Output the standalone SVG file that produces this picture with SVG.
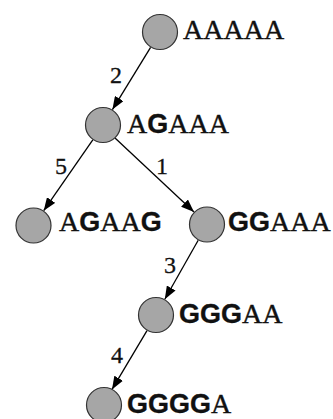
<svg xmlns="http://www.w3.org/2000/svg" width="333" height="419" viewBox="0 0 333 419">
  <style>
    .node { fill: #a6a6a6; stroke: #333333; stroke-width: 1.2; }
    .seq { font-family: "Liberation Serif", serif; font-size: 28px; fill: #111111; stroke: #111111; stroke-width: 0.4; }
    .seq .g { font-family: "Liberation Sans", Arial, sans-serif; font-weight: bold; font-size: 27px; stroke-width: 0.3; }
    .edge { stroke: #000000; stroke-width: 1.3; fill: none; marker-end: url(#arrow); }
    .lbl { font-family: "Liberation Serif", serif; font-size: 24px; fill: #111111; stroke: #111111; stroke-width: 0.3; }
  </style>
  <defs>
    <marker id="arrow" viewBox="0 0 13 10" refX="13" refY="5" markerWidth="13" markerHeight="10" markerUnits="userSpaceOnUse" orient="auto">
      <path d="M0,0 L13,5 L0,10 Z" fill="#000000"/>
    </marker>
  </defs>
  <rect width="333" height="419" fill="#ffffff"/>

  <g id="connectors">
    <line class="edge" x1="150.6" y1="47.4" x2="112.4" y2="109.6"/>
    <text class="lbl" x="110" y="83">2</text>
    <line class="edge" x1="92.8" y1="139.8" x2="43.7" y2="210.7"/>
    <text class="lbl" x="55" y="174">5</text>
    <line class="edge" x1="115" y1="138" x2="194" y2="212"/>
    <text class="lbl" x="156" y="174">1</text>
    <line class="edge" x1="198.2" y1="240.2" x2="164.8" y2="299.3"/>
    <text class="lbl" x="164" y="273">3</text>
    <line class="edge" x1="147" y1="330.6" x2="112" y2="389.4"/>
    <text class="lbl" x="111" y="363">4</text>
  </g>

  <g id="n-aaaaa">
    <circle class="node" cx="160" cy="32" r="17.5"/>
    <text class="seq" x="183" y="39">AAAAA</text>
  </g>
  <g id="n-agaaa">
    <circle class="node" cx="103" cy="125" r="17.5"/>
    <text class="seq" x="127" y="133">A<tspan class="g">G</tspan>AAA</text>
  </g>
  <g id="n-agaag">
    <circle class="node" cx="33.5" cy="225.5" r="17.5"/>
    <text class="seq" x="59" y="231">A<tspan class="g">G</tspan>AA<tspan class="g">G</tspan></text>
  </g>
  <g id="n-ggaaa">
    <circle class="node" cx="207" cy="224.5" r="17.5"/>
    <text class="seq" x="228" y="231"><tspan class="g">GG</tspan>AAA</text>
  </g>
  <g id="n-gggaa">
    <circle class="node" cx="156" cy="315" r="17.5"/>
    <text class="seq" x="179" y="323"><tspan class="g">GGG</tspan>AA</text>
  </g>
  <g id="n-gggga">
    <circle class="node" cx="104" cy="405" r="17.5"/>
    <text class="seq" x="127" y="413"><tspan class="g">GGGG</tspan>A</text>
  </g>
</svg>
